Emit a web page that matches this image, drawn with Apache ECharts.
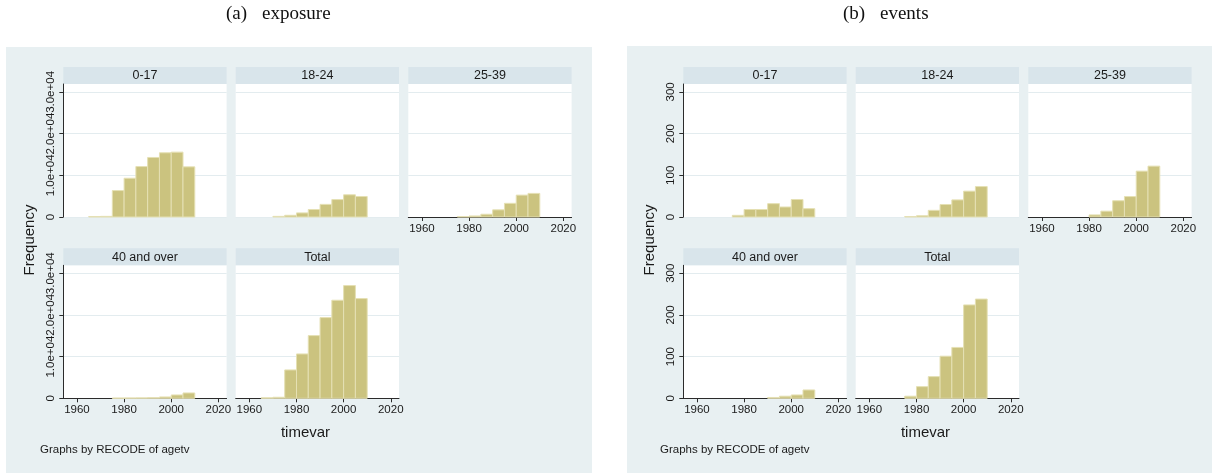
<!DOCTYPE html>
<html>
<head>
<meta charset="utf-8">
<script src="https://cdn.jsdelivr.net/npm/echarts@6/dist/echarts.min.js"></script>
<style>
html, body { margin: 0; padding: 0; background: #ffffff; }
#chart { width: 1212px; height: 473px; }
</style>
</head>
<body>
<div id="chart"></div>
<script>
// Histogram bins: 5-year bins, value = left edge of bin
const binStarts = [1965, 1970, 1975, 1980, 1985, 1990, 1995, 2000, 2005];
const binWidth = 5;

const groups = ['0-17', '18-24', '25-39', '40 and over', 'Total'];

// Exposure frequencies by age group
const exposure0to17  = [120, 150, 6340, 9300, 12100, 14280, 15400, 15560, 12030];
const exposure18to24 = [0, 150, 410, 980, 1800, 3030, 4180, 5330, 4920];
const exposure25to39 = [0, 0, 80, 250, 660, 1720, 3280, 5250, 5660];
const exposure40plus = [0, 0, 60, 80, 100, 150, 320, 800, 1280];
const exposureTotal  = [120, 250, 6800, 10640, 15040, 19360, 23520, 27040, 23920];

// Event frequencies by age group
const events0to17  = [0, 0, 4, 18, 18, 32, 24, 42, 20];
const events18to24 = [0, 0, 1, 3, 16, 30, 41, 62, 73];
const events25to39 = [0, 0, 0, 5, 14, 39, 49, 110, 122];
const events40plus = [0, 0, 0, 0, 0, 2, 5, 8, 20];
const eventsTotal  = [0, 0, 5, 28, 52, 101, 122, 224, 238];

// Axis ticks and labels
const yearTicks = [1960, 1980, 2000, 2020];
const yearTickLabels = ['1960', '1980', '2000', '2020'];
const exposureTicks = [0, 10000, 20000, 30000];
const exposureTickLabels = ['0', '1.0e+04', '2.0e+04', '3.0e+04'];
const eventTicks = [0, 100, 200, 300];
const eventTickLabels = ['0', '100', '200', '300'];

const panels = [
  { letter: '(a)', name: 'exposure', series: [exposure0to17, exposure18to24, exposure25to39, exposure40plus, exposureTotal],
    yMax: 31900, ticks: exposureTicks, tickLabels: exposureTickLabels },
  { letter: '(b)', name: 'events', series: [events0to17, events18to24, events25to39, events40plus, eventsTotal],
    yMax: 319, ticks: eventTicks, tickLabels: eventTickLabels }
];

// Layout (pixels)
const panelShift = [0, 620];
const boxes = [[6, 47, 586, 426], [627, 46, 585, 427]];
const colLeft = [63.3, 235.7, 408.3];
const colWidth = 163.3;
const stripTop = [67, 248.3];
const stripH = 17;
const plotBottom = [217, 398.3];
const xMin = 1954.2, xMax = 2023.5;

const FONT = '"Liberation Sans", Arial, sans-serif';
const BG = '#E8F0F2';
const STRIP = '#D9E5EB';
const GRIDLINE = '#E3ECEF';
const AXIS = '#2b2b2b';
const BAR = '#CBC37F';
const BAR_EDGE = '#E5E0B4';

const grids = [], xAxes = [], yAxes = [], series = [], graphics = [];

function renderBin(params, api) {
  const x0 = api.value(0);
  const v = api.value(1);
  if (!v) return null;
  const p0 = api.coord([x0, 0]);
  const p1 = api.coord([x0 + binWidth, v]);
  return {
    type: 'rect',
    shape: { x: p0[0], y: p1[1], width: p1[0] - p0[0], height: p0[1] - p1[1] },
    style: { fill: BAR, stroke: BAR_EDGE, lineWidth: 1 }
  };
}

panels.forEach((panel, pi) => {
  const dx = panelShift[pi];
  const box = boxes[pi];
  graphics.push({ type: 'rect', z: -10, silent: true,
    shape: { x: box[0], y: box[1], width: box[2], height: box[3] }, style: { fill: BG } });

  // panel caption
  graphics.push({ type: 'text', x: 226 + dx - (pi ? 3 : 0), y: 14, silent: true,
    style: { text: panel.letter, font: '19px "Liberation Serif", serif', fill: '#111', textAlign: 'left', textVerticalAlign: 'middle' } });
  graphics.push({ type: 'text', x: 262 + dx - (pi ? 2 : 0), y: 14, silent: true,
    style: { text: panel.name, font: '19px "Liberation Serif", serif', fill: '#111', textAlign: 'left', textVerticalAlign: 'middle' } });

  groups.forEach((g, gi) => {
    const row = Math.floor(gi / 3), col = gi % 3;
    const left = colLeft[col] + dx;
    const top = stripTop[row] + stripH;
    const height = plotBottom[row] - top;
    const idx = grids.length;
    const showY = col === 0;
    const showX = row === 1 || col === 2;

    graphics.push({ type: 'rect', silent: true,
      shape: { x: left, y: stripTop[row], width: colWidth, height: stripH }, style: { fill: STRIP } });
    graphics.push({ type: 'text', silent: true, x: left + colWidth / 2, y: stripTop[row] + stripH / 2 + 0.5,
      style: { text: g, font: '12.5px ' + FONT, fill: '#1a1a1a', textAlign: 'center', textVerticalAlign: 'middle' } });

    grids.push({ left: left, top: top, width: colWidth, height: height, show: true,
      backgroundColor: '#ffffff', borderWidth: 0, containLabel: false, outerBoundsMode: 'none' });

    xAxes.push({
      type: 'value', gridIndex: idx, min: xMin, max: xMax,
      show: showX,
      axisLine: { show: true, onZero: false, lineStyle: { color: AXIS, width: 1 } },
      axisTick: { show: true, length: 4, customValues: yearTicks, lineStyle: { color: AXIS } },
      axisLabel: { show: true, customValues: yearTicks, fontFamily: 'Liberation Sans', fontSize: 11.5, color: '#1a1a1a', margin: 6,
        formatter: (v) => yearTickLabels[yearTicks.indexOf(Math.round(v))] },
      splitLine: { show: false }
    });

    yAxes.push({
      type: 'value', gridIndex: idx, min: 0, max: panel.yMax,
      axisLine: { show: showY, lineStyle: { color: AXIS, width: 1 } },
      axisTick: { show: showY, length: 4, customValues: panel.ticks, lineStyle: { color: AXIS } },
      axisLabel: { show: showY, customValues: panel.ticks, rotate: 90, margin: 6,
        fontFamily: 'Liberation Sans', fontSize: 11.5, color: '#1a1a1a',
        formatter: (v) => panel.tickLabels[panel.ticks.indexOf(v)] },
      splitLine: { show: true, lineStyle: { color: GRIDLINE, width: 1 } }
    });

    series.push({
      type: 'custom', xAxisIndex: idx, yAxisIndex: idx,
      renderItem: renderBin,
      encode: { x: 0, y: 1 },
      data: binStarts.map((b, i) => [b, panel.series[gi][i]])
    });
  });

  // Axis titles and note
  graphics.push({ type: 'text', silent: true, x: 30 + dx, y: 240, rotation: Math.PI / 2,
    style: { text: 'Frequency', font: '15px ' + FONT, fill: '#1a1a1a', textAlign: 'center', textVerticalAlign: 'middle' } });
  graphics.push({ type: 'text', silent: true, x: 305.5 + dx, y: 433,
    style: { text: 'timevar', font: '15px ' + FONT, fill: '#1a1a1a', textAlign: 'center', textVerticalAlign: 'middle' } });
  graphics.push({ type: 'text', silent: true, x: 40 + dx, y: 449.5,
    style: { text: 'Graphs by RECODE of agetv', font: '11.5px ' + FONT, fill: '#1a1a1a', textAlign: 'left', textVerticalAlign: 'middle' } });
});

const chart = echarts.init(document.getElementById('chart'), null, { renderer: 'canvas' });
chart.setOption({
  animation: false,
  backgroundColor: '#ffffff',
  grid: grids,
  xAxis: xAxes,
  yAxis: yAxes,
  series: series,
  graphic: { elements: graphics }
});
</script>
</body>
</html>
